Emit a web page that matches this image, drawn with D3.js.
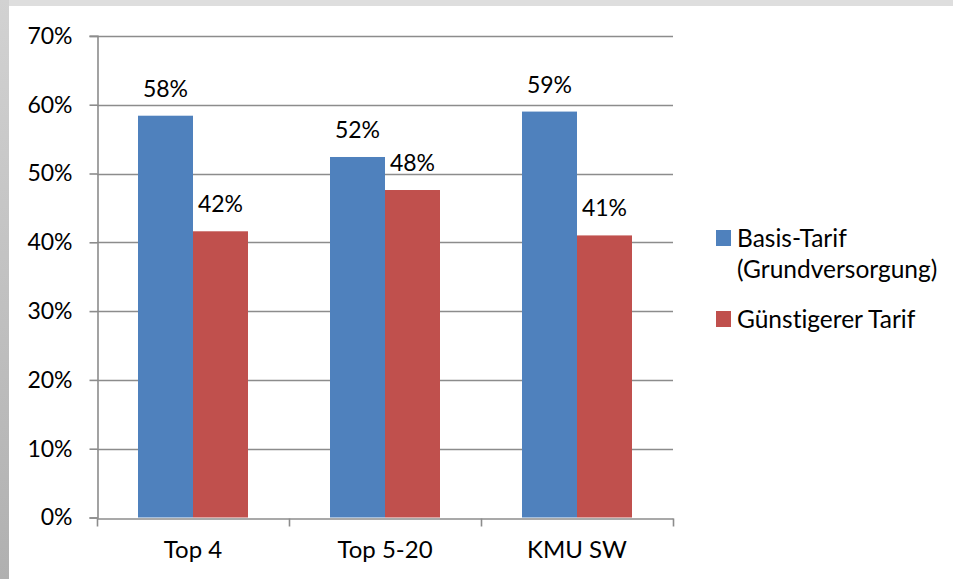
<!DOCTYPE html>
<html>
<head>
<meta charset="utf-8">
<script src="https://cdn.jsdelivr.net/npm/d3@7"></script>
<style>
  html, body { margin: 0; padding: 0; background: #fff; }
  svg { display: block; }
  text { font-family: Lato, "Open Sans", sans-serif; fill: #000; font-variant-ligatures: none; font-feature-settings: "liga" 0, "clig" 0; }
</style>
</head>
<body>
<svg id="chart" width="953" height="579"></svg>
<script>
// Tariff shares per supplier group
const categories = ["Top 4", "Top 5-20", "KMU SW"];
const seriesNames = ["Basis-Tarif (Grundversorgung)", "Günstigerer Tarif"];
const basisTarif = [58.4, 52.4, 59.0];
const guenstigerTarif = [41.6, 47.6, 41.0];
const yTicks = [0, 10, 20, 30, 40, 50, 60, 70];
const colors = ["#4f81bd", "#c0504d"];

const W = 953, H = 579;
const FS = 23;
const svg = d3.select("#chart");

// frame: grey bands along the top and left edge
const defs = svg.append("defs");
const lg = defs.append("linearGradient").attr("id", "leftBand")
  .attr("x1", 0).attr("y1", 0).attr("x2", 0).attr("y2", 1);
lg.append("stop").attr("offset", "0%").attr("stop-color", "#d2d2d2");
lg.append("stop").attr("offset", "100%").attr("stop-color", "#b0b0b0");
svg.append("rect").attr("x", 0).attr("y", 0).attr("width", W).attr("height", 6).attr("fill", "#dedede");
svg.append("rect").attr("x", 0).attr("y", 0).attr("width", 9).attr("height", H).attr("fill", "url(#leftBand)");

const plot = { left: 97, right: 673, top: 35.9, bottom: 517.5 };

const x = d3.scaleBand().domain(categories).range([plot.left, plot.right]).paddingInner(0).paddingOuter(0);
const y = d3.scaleLinear().domain([0, 70]).range([plot.bottom, plot.top]);
const barW = 55;
const xs = d3.scaleBand().domain([0, 1]).range([0, barW * 2]);

// gridlines
svg.append("g").selectAll("line").data(yTicks.filter(d => d > 0)).join("line")
  .attr("x1", plot.left).attr("x2", plot.right)
  .attr("y1", d => Math.round(y(d)) + 0.5).attr("y2", d => Math.round(y(d)) + 0.5)
  .attr("stroke", "#8c8c8c").attr("stroke-width", 1.6);

// y axis
const yAxis = d3.axisLeft(y).tickValues(yTicks).tickFormat(d => d + "%").tickSize(8).tickPadding(17);
const gy = svg.append("g").attr("transform", `translate(${plot.left + 0.5},0)`).call(yAxis);
gy.select(".domain").attr("stroke", "#8c8c8c").attr("stroke-width", 1.6);
gy.selectAll(".tick line").attr("stroke", "#8c8c8c").attr("stroke-width", 1.6);
gy.selectAll(".tick text").attr("font-size", FS).attr("font-family", "Lato, sans-serif").attr("fill", "#000");

// x axis
const xAxis = d3.axisBottom(x).tickSize(0).tickPadding(22);
const gx = svg.append("g").attr("transform", `translate(0,${Math.round(plot.bottom) + 0.5})`).call(xAxis);
gx.select(".domain").attr("stroke", "#8c8c8c").attr("stroke-width", 1.6);
gx.selectAll(".tick text").attr("font-size", 24).attr("font-family", "Lato, sans-serif").attr("fill", "#000");
// category boundary ticks
const bounds = [plot.left, ...categories.map(c => x(c) + x.bandwidth())];
gx.append("g").selectAll("line").data(bounds).join("line")
  .attr("x1", d => d + 0.5).attr("x2", d => d + 0.5).attr("y1", 0).attr("y2", 8)
  .attr("stroke", "#8c8c8c").attr("stroke-width", 1.6);

// bars
const series = [basisTarif, guenstigerTarif];
series.forEach((vals, si) => {
  const g = svg.append("g");
  const rows = categories.map((c, i) => ({ c, v: vals[i] }));
  const bx = d => x(d.c) + (x.bandwidth() - barW * 2) / 2 + xs(si);
  g.selectAll("rect").data(rows).join("rect")
    .attr("x", bx).attr("width", xs.bandwidth())
    .attr("y", d => y(d.v)).attr("height", d => y(0) - y(d.v))
    .attr("fill", colors[si]);
  g.selectAll("text").data(rows).join("text")
    .attr("x", d => bx(d) + xs.bandwidth() / 2)
    .attr("y", d => y(d.v) - 19)
    .attr("text-anchor", "middle").attr("font-size", FS)
    .text(d => Math.round(d.v) + "%");
});

// legend
const legend = svg.append("g");
const legendItems = [
  { lines: ["Basis-Tarif", "(Grundversorgung)"], y: 230 },
  { lines: ["Günstigerer Tarif"], y: 311 }
];
legendItems.forEach((it, i) => {
  legend.append("rect").attr("x", 716).attr("y", it.y).attr("width", 15).attr("height", 16).attr("fill", colors[i]);
  it.lines.forEach((l, j) => legend.append("text")
    .attr("x", 737).attr("y", it.y + 16.5 + j * 31)
    .attr("font-size", 24.5)
    .text(l));
});
</script>
</body>
</html>
